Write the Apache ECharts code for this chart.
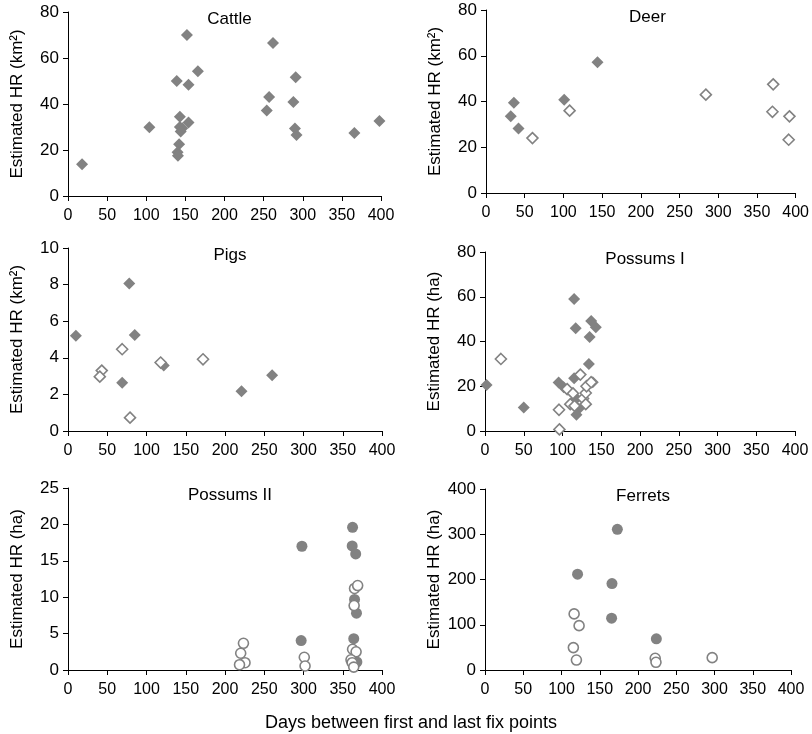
<!DOCTYPE html>
<html>
<head>
<meta charset="utf-8">
<script src="https://cdn.jsdelivr.net/npm/echarts@6/dist/echarts.min.js"></script>
<style>
  html, body { margin: 0; padding: 0; background: #fff; }
  #chart { width: 812px; height: 734px; }
</style>
</head>
<body>
<div id="chart"></div>
<script>
// days between first and last fix, estimated home range
let cattleFilled = [[18,13.8],[104,29.9],[139,50],[152,70],[166,54.2],[154,48.4],[143,34.5],[154,32],[143,30],[146,29.5],[144,28],[142,22.5],[140,19],[140.5,17.5],
  [262,66.5],[257,43],[254,37.2],[291,51.6],[288,40.9],[290,29.3],[292,26.5],[366,27.4],[398,32.6]];
let cattleOpen = [];

let deerFilled = [[32,33.5],[36,39.5],[42,28.2],[101,40.8],[144,57.2]];
let deerOpen = [[60,24],[108,36],[284,43],[371,47.5],[370,35.5],[392,33.5],[391,23.3]];

let pigsFilled = [[10,5.2],[78,8.06],[85,5.24],[69,2.63],[122,3.58],[221,2.17],[260,3.05]];
let pigsOpen = [[43,3.3],[40.5,2.97],[69,4.47],[79,0.73],[118,3.74],[172,3.92]];

let possums1Filled = [[2,20.6],[50,10.5],[95,21.7],[101.5,19.6],[115,59],[117,45.9],[115,23.6],[118,14.5],[121,10],[118,7.3],[137,49.2],[143,46.4],[135,42],[134,29.9],[139,21.8]];
let possums1Open = [[20.5,32.2],[95.5,9.5],[96,0.7],[106,18.7],[110,12],[113.5,16.8],[115.5,11.2],[123,25.2],[126.5,14.5],[130,12],[130,17],[131,20],[137,21.8]];

let possums2Filled = [[298,17],[297,4.05],[362.5,19.6],[362,17.05],[366.5,15.95],[365,9.7],[367.5,7.8],[364,4.3],[368,1.1]];
let possums2Open = [[223.5,3.67],[220,2.3],[225.5,1.0],[218.5,0.73],[301,1.75],[302,0.55],[365,11.2],[369,11.6],[364.5,8.85],[362.5,2.85],[367,2.5],[360.5,1.4],[362,1.0],[364,0.4]];

let ferretsFilled = [[121,211.8],[173,311],[166,191],[165.5,114.4],[224,69]];
let ferretsOpen = [[116.5,124],[123,98],[115.5,49.5],[119.5,22],[222.5,26],[223.5,17],[297,27.3]];

let panelTitles = ['Cattle', 'Deer', 'Pigs', 'Possums I', 'Possums II', 'Ferrets'];
let yNames = ['Estimated HR (km\u00b2)', 'Estimated HR (km\u00b2)', 'Estimated HR (km\u00b2)', 'Estimated HR (ha)', 'Estimated HR (ha)', 'Estimated HR (ha)'];
let yMax = [80, 80, 10, 80, 25, 400];
let yStep = [20, 20, 2, 20, 5, 100];
let xTitle = 'Days between first and last fix points';

let grids = [
  {left: 68, top: 12, width: 313, height: 184},
  {left: 486, top: 10, width: 313, height: 183},
  {left: 68, top: 248, width: 314, height: 183},
  {left: 485, top: 252, width: 310, height: 179},
  {left: 68, top: 488, width: 314, height: 182},
  {left: 485, top: 489, width: 306, height: 181}
];
let shapes = ['diamond','diamond','diamond','diamond','circle','circle'];
let filledSets = [cattleFilled, deerFilled, pigsFilled, possums1Filled, possums2Filled, ferretsFilled];
let openSets = [cattleOpen, deerOpen, pigsOpen, possums1Open, possums2Open, ferretsOpen];

let font = 'Liberation Sans, Arial, sans-serif';
let grey = '#828282';

let xAxes = [], yAxes = [], series = [], titles = [];
grids.forEach((g, i) => {
  xAxes.push({
    gridIndex: i, type: 'value', min: 0, max: 400, interval: 50,
    axisLine: {show: true, onZero: false, lineStyle: {color: '#000', width: 1}},
    axisTick: {show: true, inside: false, length: 5, lineStyle: {color: '#000'}},
    axisLabel: {color: '#000', fontSize: 16, fontFamily: font, margin: 12},
    splitLine: {show: false}
  });
  yAxes.push({
    gridIndex: i, type: 'value', min: 0, max: yMax[i], interval: yStep[i],
    name: yNames[i], nameLocation: 'middle', nameGap: 42, nameRotate: 90,
    nameTextStyle: {color: '#000', fontSize: 17, fontFamily: font},
    axisLine: {show: true, onZero: false, lineStyle: {color: '#000', width: 1}},
    axisTick: {show: true, inside: false, length: 5, lineStyle: {color: '#000'}},
    axisLabel: {color: '#000', fontSize: 17, fontFamily: font, margin: 9},
    splitLine: {show: false}
  });
  titles.push({
    text: panelTitles[i], left: g.left + g.width / 2, top: g.top - 6, textAlign: 'center',
    textStyle: {color: '#000', fontSize: 17, fontWeight: 'normal', fontFamily: font}
  });
  let size = shapes[i] === 'diamond' ? 12 : 11;
  series.push({
    type: 'scatter', xAxisIndex: i, yAxisIndex: i, symbol: shapes[i], symbolSize: size,
    data: filledSets[i], itemStyle: {color: grey, opacity: 1}, silent: true
  });
  series.push({
    type: 'scatter', xAxisIndex: i, yAxisIndex: i, symbol: shapes[i], symbolSize: size - 1,
    data: openSets[i], itemStyle: {color: '#fff', borderColor: grey, borderWidth: 1.6, opacity: 1}, silent: true
  });
});

titles.push({
  text: xTitle, left: 406, top: 709, textAlign: 'center',
  textStyle: {color: '#000', fontSize: 18, fontWeight: 'normal', fontFamily: font}
});

let myChart = echarts.init(document.getElementById('chart'), null, {renderer: 'canvas'});
myChart.setOption({
  animation: false,
  backgroundColor: '#fff',
  title: titles,
  grid: grids,
  xAxis: xAxes,
  yAxis: yAxes,
  series: series
});
</script>
</body>
</html>
